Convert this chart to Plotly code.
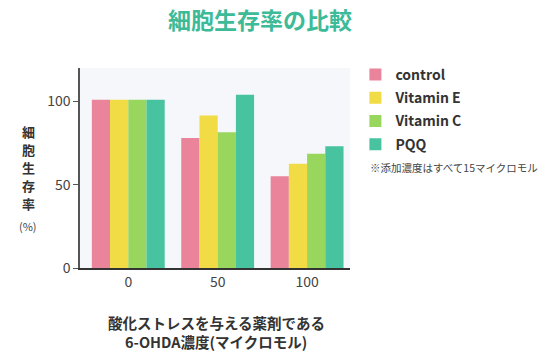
import plotly.graph_objects as go

categories = ["0", "50", "100"]
series_names = ["control", "Vitamin E", "Vitamin C", "PQQ"]
control = [101, 78, 55]
vitamin_e = [101, 91.5, 62.5]
vitamin_c = [101, 81.5, 68.5]
pqq = [101, 104, 73]
colors = ["#e9849a", "#f1dc45", "#98d65e", "#47c3a0"]
y_ticks = [0, 50, 100]
y_title_chars = ["細", "胞", "生", "存", "率"]

FONT = "Noto Sans CJK JP"
fig = go.Figure()
for name, vals, c in zip(series_names, [control, vitamin_e, vitamin_c, pqq], colors):
    fig.add_trace(go.Bar(x=categories, y=vals, name=name, legendgroup=name,
                         marker=dict(color=c, line=dict(width=0))))

fig.update_layout(
    width=553, height=352,
    margin=dict(l=80, r=203, t=68, b=84),
    paper_bgcolor="white", plot_bgcolor="#f5f7fb",
    barmode="group", bargap=0.185, bargroupgap=0,
    font=dict(family=FONT, color="#444"),
    showlegend=True,
    legend=dict(x=1.02, y=1.045, xanchor="left", yanchor="top",
                font=dict(size=14, color="#333", family=FONT, weight="bold"),
                itemwidth=30, tracegroupgap=2, bgcolor="rgba(0,0,0,0)"),
    title=dict(text="<b>細胞生存率の比較</b>", x=0.47, xanchor="center", y=0.94, yanchor="middle",
               font=dict(size=23, color="#3dba98", family=FONT)),
)
fig.update_xaxes(showline=True, linecolor="#333", linewidth=1.5, ticks="", showgrid=False,
                 range=[-0.54, 2.48], tickfont=dict(size=14, color="#444"), zeroline=False)
fig.update_yaxes(range=[0, 120], tickvals=y_ticks, showline=True, linecolor="#555", linewidth=1.5,
                 ticks="outside", ticklen=5, tickcolor="#555", showgrid=False, zeroline=False,
                 tickfont=dict(size=14, color="#444"))

def py(p):
    return (268 - p) / 200.0

def px(p):
    return (p - 80) / 270.0

for ch, yp in zip(y_title_chars, [131, 149, 167, 185, 203]):
    fig.add_annotation(text="<b>" + ch + "</b>", xref="paper", yref="paper",
                       x=px(28), y=py(yp), xanchor="center", yanchor="middle", showarrow=False,
                       borderpad=0, font=dict(size=13, color="#333", family=FONT))
fig.add_annotation(text="(%)", xref="paper", yref="paper", x=px(28), y=py(226),
                   xanchor="center", yanchor="middle", showarrow=False, borderpad=0,
                   font=dict(size=11, color="#444", family=FONT))
fig.add_annotation(text="<b>酸化ストレスを与える薬剤である</b>",
                   xref="paper", yref="paper", x=px(216), y=py(322), xanchor="center", yanchor="middle",
                   showarrow=False, borderpad=0, font=dict(size=14.5, color="#333", family=FONT))
fig.add_annotation(text="<b>6-OHDA濃度(マイクロモル)</b>",
                   xref="paper", yref="paper", x=px(216), y=py(341), xanchor="center", yanchor="middle",
                   showarrow=False, borderpad=0, font=dict(size=14.5, color="#333", family=FONT))
fig.add_annotation(text="※添加濃度はすべて15マイクロモル", xref="paper", yref="paper",
                   x=px(369), y=py(167), xanchor="left", yanchor="middle", showarrow=False,
                   borderpad=0, font=dict(size=10.5, color="#444", family=FONT))

fig.write_html("out.html")
